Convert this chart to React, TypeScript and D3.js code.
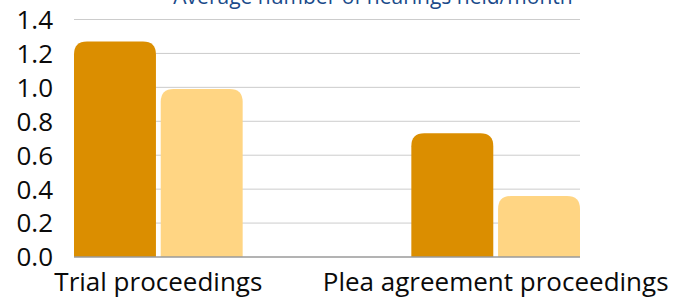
import * as d3 from "d3";
import React from "react";

const categories = ["Trial proceedings", "Plea agreement proceedings"];
const seriesNames = ["Series A", "Series B"];
const seriesA = [1.27, 0.73];
const seriesB = [0.99, 0.36];
const yTicks = [0, 0.2, 0.4, 0.6, 0.8, 1.0, 1.2, 1.4];
const title = "Average number of hearings held/month";

const colors = ["#db8e00", "#ffd583"];

// 上側だけ角丸の棒
function topRoundedBar(x: number, y: number, w: number, h: number, r: number) {
  const rr = Math.min(r, w / 2, h);
  return `M${x},${y + h}V${y + rr}Q${x},${y} ${x + rr},${y}H${x + w - rr}Q${x + w},${y} ${x + w},${y + rr}V${y + h}Z`;
}

export default function App() {
  const width = 690;
  const height = 300;
  const left = 74;
  const right = 580;
  const top = 19.5;
  const bottom = 257;

  const x0 = d3.scaleBand<string>().domain(categories).range([left, right]).paddingInner(0.5).paddingOuter(0);
  const x1 = d3.scaleBand<string>().domain(seriesNames).range([0, x0.bandwidth()]).paddingInner(0.055);
  const y = d3.scaleLinear().domain([0, 1.4]).range([bottom, top]);

  const values = [seriesA, seriesB];
  const font = "'Open Sans', sans-serif";

  return (
    <div style={{ position: "absolute", left: 0, top: 0 }}>
      <svg width={width} height={height} style={{ display: "block", background: "#fff" }}>
        <text x={373} y={3.5} textAnchor="middle" fontFamily={font} fontSize={21} fill="#1a4a8a">
          {title}
        </text>
        {yTicks.map((t) => (
          <g key={t}>
            {t > 0 && (
              <line x1={left} x2={right} y1={y(t)} y2={y(t)} stroke="#cccccc" strokeWidth={1} />
            )}
            <text
              x={53}
              y={y(t)}
              dy="0.36em"
              textAnchor="end"
              fontFamily={font}
              fontSize={26}
              fill="#0a0a0a"
            >
              {d3.format(".1f")(t)}
            </text>
          </g>
        ))}
        {categories.map((c, i) => (
          <g key={c} transform={`translate(${x0(c)},0)`}>
            {seriesNames.map((s, j) => {
              const v = values[j][i];
              const bx = x1(s) || 0;
              return (
                <path
                  key={s}
                  d={topRoundedBar(bx, y(v), x1.bandwidth(), bottom - y(v), 13)}
                  fill={colors[j]}
                />
              );
            })}
            <text
              x={x0.bandwidth() / 2}
              y={291}
              textAnchor="middle"
              fontFamily={font}
              fontSize={26}
              fill="#0a0a0a"
            >
              {c}
            </text>
          </g>
        ))}
        <line x1={left} x2={right} y1={bottom} y2={bottom} stroke="#9a9a9a" strokeWidth={1.5} />
      </svg>
    </div>
  );
}
